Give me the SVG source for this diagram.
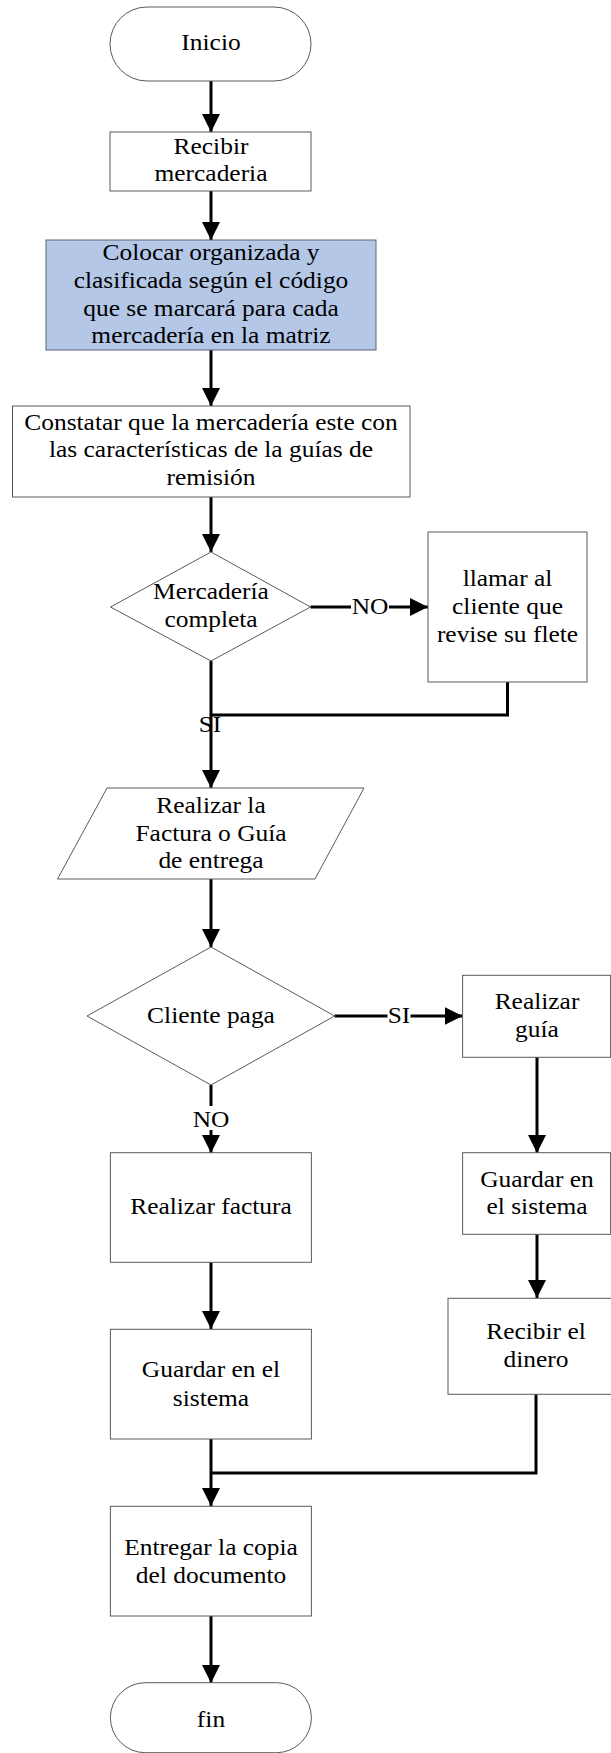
<svg xmlns="http://www.w3.org/2000/svg" width="611" height="1753" viewBox="0 0 611 1753">
  <defs>
    <marker id="arrow" markerUnits="userSpaceOnUse" markerWidth="18" markerHeight="18" viewBox="0 0 18 18" refX="18" refY="9" orient="auto">
      <path d="M0,0 L18,9 L0,18 Z" fill="#000"/>
    </marker>
    <style>
      .shape { fill: #fff; stroke: #5a5a5a; stroke-width: 1; }
      .hl { fill: #b4c7e7; stroke: #5a6478; stroke-width: 1; }
      .lbl { font-size: 24px; fill: #000; text-anchor: middle; }
      .conn { fill: none; stroke: #000; stroke-width: 3; }
      .bg { fill: #fff; stroke: none; }
    </style>
  </defs>
  <rect width="611" height="1753" fill="#fff"/>

  <g font-family="Liberation Serif, serif">
  <!-- connectors -->
  <g id="connectors">
    <line class="conn" x1="211" y1="81" x2="211" y2="132" marker-end="url(#arrow)"/>
    <line class="conn" x1="211" y1="191" x2="211" y2="240" marker-end="url(#arrow)"/>
    <line class="conn" x1="211" y1="350" x2="211" y2="406" marker-end="url(#arrow)"/>
    <line class="conn" x1="211" y1="497" x2="211" y2="552" marker-end="url(#arrow)"/>
    <line class="conn" x1="310.5" y1="607" x2="428" y2="607" marker-end="url(#arrow)"/>
    <polyline class="conn" points="507.5,682 507.5,715 211,715"/>
    <line class="conn" x1="211" y1="661" x2="211" y2="788" marker-end="url(#arrow)"/>
    <line class="conn" x1="211" y1="879" x2="211" y2="947" marker-end="url(#arrow)"/>
    <line class="conn" x1="334.6" y1="1016" x2="462.6" y2="1016" marker-end="url(#arrow)"/>
    <line class="conn" x1="211" y1="1085" x2="211" y2="1153" marker-end="url(#arrow)"/>
    <line class="conn" x1="537" y1="1057" x2="537" y2="1153" marker-end="url(#arrow)"/>
    <line class="conn" x1="537" y1="1234" x2="537" y2="1298" marker-end="url(#arrow)"/>
    <line class="conn" x1="211" y1="1262" x2="211" y2="1329" marker-end="url(#arrow)"/>
    <line class="conn" x1="211" y1="1439" x2="211" y2="1506" marker-end="url(#arrow)"/>
    <polyline class="conn" points="536,1394 536,1473 211,1473"/>
    <line class="conn" x1="211" y1="1616" x2="211" y2="1683" marker-end="url(#arrow)"/>

    <!-- branch labels -->
    <rect class="bg" x="351" y="595" width="38" height="22"/>
    <text class="lbl" transform="translate(370 614) scale(1.06 1)">NO</text>
    <text class="lbl" transform="translate(210 731.5) scale(1.06 1)">SI</text>
    <rect class="bg" x="387.5" y="1004" width="23" height="22"/>
    <text class="lbl" transform="translate(399 1022.5) scale(1.06 1)">SI</text>
    <rect class="bg" x="192" y="1106" width="38" height="24"/>
    <text class="lbl" transform="translate(211 1126.5) scale(1.06 1)">NO</text>
  </g>

  <g id="inicio">
    <rect class="shape" x="110" y="7" width="201" height="74" rx="37" ry="37"/>
    <text class="lbl" transform="translate(211 50) scale(1.06 1)">Inicio</text>
  </g>

  <g id="recibir-mercaderia">
    <rect class="shape" x="110" y="132" width="201" height="59"/>
    <text class="lbl" transform="translate(211 0) scale(1.06 1)"><tspan x="0" y="154">Recibir</tspan><tspan x="0" y="181.5">mercaderia</tspan></text>
  </g>

  <g id="colocar">
    <rect class="hl" x="46" y="240" width="330" height="110"/>
    <text class="lbl" transform="translate(211 0) scale(1.06 1)"><tspan x="0" y="260.5">Colocar organizada y</tspan><tspan x="0" y="288.2">clasificada según el código</tspan><tspan x="0" y="315.8">que se marcará para cada</tspan><tspan x="0" y="343.4">mercadería en la matriz</tspan></text>
  </g>

  <g id="constatar">
    <rect class="shape" x="12.5" y="406" width="397.5" height="91"/>
    <text class="lbl" transform="translate(211 0) scale(1.06 1)"><tspan x="0" y="430">Constatar que la mercadería este con</tspan><tspan x="0" y="457.4">las características de la guías de</tspan><tspan x="0" y="485">remisión</tspan></text>
  </g>

  <g id="mercaderia-completa">
    <polygon class="shape" points="211,552 310.5,607 211,661 110.5,607"/>
    <text class="lbl" transform="translate(211 0) scale(1.06 1)"><tspan x="0" y="599.5">Mercadería</tspan><tspan x="0" y="627.5">completa</tspan></text>
  </g>

  <g id="llamar-cliente">
    <rect class="shape" x="428" y="532" width="159" height="150"/>
    <text class="lbl" transform="translate(507.5 0) scale(1.06 1)"><tspan x="0" y="586">llamar al</tspan><tspan x="0" y="614">cliente que</tspan><tspan x="0" y="641.7">revise su flete</tspan></text>
  </g>

  <g id="realizar-factura-guia">
    <polygon class="shape" points="107,788 364,788 315,879 57.5,879"/>
    <text class="lbl" transform="translate(211 0) scale(1.06 1)"><tspan x="0" y="812.7">Realizar la</tspan><tspan x="0" y="840.7">Factura o Guía</tspan><tspan x="0" y="868.3">de entrega</tspan></text>
  </g>

  <g id="cliente-paga">
    <polygon class="shape" points="211,947 334.6,1016 211,1085 87,1016"/>
    <text class="lbl" transform="translate(211 1022.7) scale(1.06 1)">Cliente paga</text>
  </g>

  <g id="realizar-guia">
    <rect class="shape" x="462.6" y="975.3" width="148" height="82"/>
    <text class="lbl" transform="translate(537 0) scale(1.06 1)"><tspan x="0" y="1009.3">Realizar</tspan><tspan x="0" y="1036.7">guía</tspan></text>
  </g>

  <g id="guardar-sistema-guia">
    <rect class="shape" x="462.6" y="1152.7" width="148" height="81.6"/>
    <text class="lbl" transform="translate(537 0) scale(1.06 1)"><tspan x="0" y="1186.7">Guardar en</tspan><tspan x="0" y="1214">el sistema</tspan></text>
  </g>

  <g id="recibir-dinero">
    <rect class="shape" x="448" y="1298.3" width="180" height="96"/>
    <text class="lbl" transform="translate(536 0) scale(1.06 1)"><tspan x="0" y="1339.3">Recibir el</tspan><tspan x="0" y="1367.3">dinero</tspan></text>
  </g>

  <g id="realizar-factura">
    <rect class="shape" x="110.4" y="1152.7" width="201" height="109.6"/>
    <text class="lbl" transform="translate(211 1214) scale(1.06 1)">Realizar factura</text>
  </g>

  <g id="guardar-sistema-factura">
    <rect class="shape" x="110.4" y="1329.3" width="201" height="109.7"/>
    <text class="lbl" transform="translate(211 0) scale(1.06 1)"><tspan x="0" y="1377.3">Guardar en el</tspan><tspan x="0" y="1405.7">sistema</tspan></text>
  </g>

  <g id="entregar-copia">
    <rect class="shape" x="110.4" y="1506.3" width="201" height="109.7"/>
    <text class="lbl" transform="translate(211 0) scale(1.06 1)"><tspan x="0" y="1555">Entregar la copia</tspan><tspan x="0" y="1582.7">del documento</tspan></text>
  </g>

  <g id="fin">
    <rect class="shape" x="110.4" y="1682.7" width="201" height="70" rx="35" ry="35"/>
    <text class="lbl" transform="translate(211 1726.7) scale(1.06 1)">fin</text>
  </g>
  </g>
</svg>
